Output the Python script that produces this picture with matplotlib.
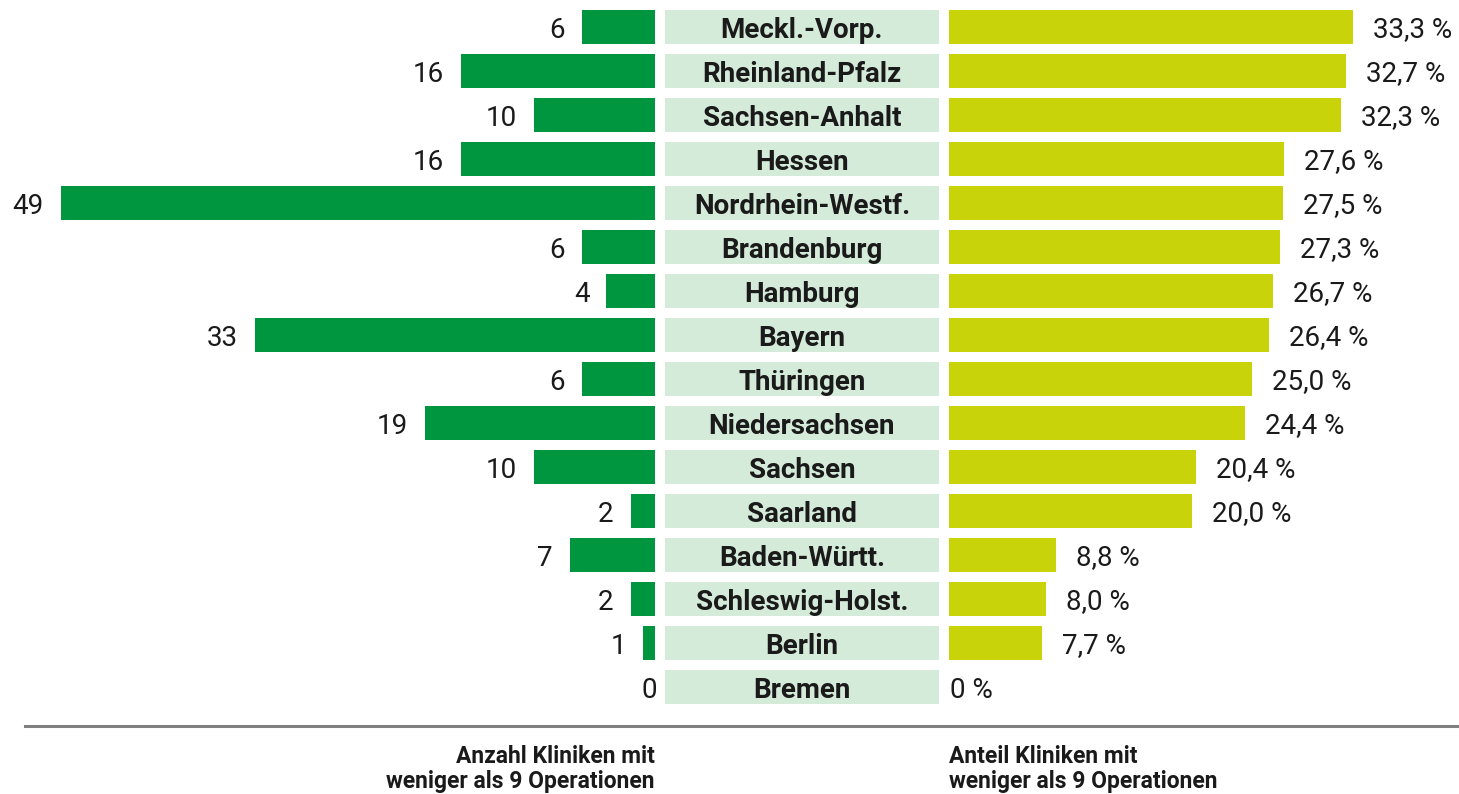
import matplotlib
matplotlib.use("Agg")
import matplotlib.pyplot as plt

states = ["Meckl.-Vorp.", "Rheinland-Pfalz", "Sachsen-Anhalt", "Hessen",
          "Nordrhein-Westf.", "Brandenburg", "Hamburg", "Bayern", "Thüringen",
          "Niedersachsen", "Sachsen", "Saarland", "Baden-Württ.",
          "Schleswig-Holst.", "Berlin", "Bremen"]
anzahl = [6, 16, 10, 16, 49, 6, 4, 33, 6, 19, 10, 2, 7, 2, 1, 0]
anteil = [33.3, 32.7, 32.3, 27.6, 27.5, 27.3, 26.7, 26.4, 25.0, 24.4,
          20.4, 20.0, 8.8, 8.0, 7.7, 0.0]

GREEN = "#009640"
LIME = "#c8d30a"
PALE = "#d5ebd9"
TXT = "#1a1a1a"
FONT = "Roboto"

W, H = 1459, 794
fig = plt.figure(figsize=(W / 100, H / 100), dpi=100)

top_px, row_px = 5, 44
n = len(states)
bottom = 1 - (top_px + row_px * n) / H
height = row_px * n / H
bar_h = 34 / 44
pxu = 12.13

axL = fig.add_axes([0, bottom, 655 / W, height])
axL.set_xlim(655 / pxu, 0)
axM = fig.add_axes([665 / W, bottom, (939 - 665) / W, height])
axM.set_xlim(0, 1)
axR = fig.add_axes([949 / W, bottom, (W - 949) / W, height])
axR.set_xlim(0, (W - 949) / pxu)
for ax in (axL, axM, axR):
    ax.set_ylim(n - 0.5, -0.5)
    ax.axis("off")

ys = list(range(n))
axL.barh(ys, anzahl, height=bar_h, color=GREEN)
axR.barh(ys, anteil, height=bar_h, color=LIME)
axM.barh(ys, [1] * n, height=bar_h, color=PALE, left=0)

for y, v in zip(ys, anzahl):
    off = 17 / pxu if v > 0 else -2 / pxu
    axL.text(v + off, y, str(v), ha="right", va="center_baseline", fontsize=20,
             family=FONT, color=TXT)
for y, v in zip(ys, anteil):
    lbl = "0 %" if v == 0 else f"{v:.1f} %".replace(".", ",")
    off = 20 / pxu if v > 0 else 1 / pxu
    axR.text(v + off, y, lbl, ha="left", va="center_baseline", fontsize=20,
             family=FONT, color=TXT)
for y, s in zip(ys, states):
    axM.text(0.5, y, s, ha="center", va="center_baseline", fontsize=20,
             family=FONT, fontweight="bold", color=TXT)

fig.add_artist(plt.Line2D([25 / W, 1], [1 - 726 / H, 1 - 726 / H],
                          color="#808080", lw=2.2))
fig.text(655 / W, 1 - 769 / H, "Anzahl Kliniken mit\nweniger als 9 Operationen",
         ha="right", va="center", fontsize=16.5, family=FONT,
         fontweight="bold", color=TXT, linespacing=1.08)
fig.text(949 / W, 1 - 769 / H, "Anteil Kliniken mit\nweniger als 9 Operationen",
         ha="left", va="center", fontsize=16.5, family=FONT,
         fontweight="bold", color=TXT, linespacing=1.08)

fig.savefig("out.png", dpi=100)
